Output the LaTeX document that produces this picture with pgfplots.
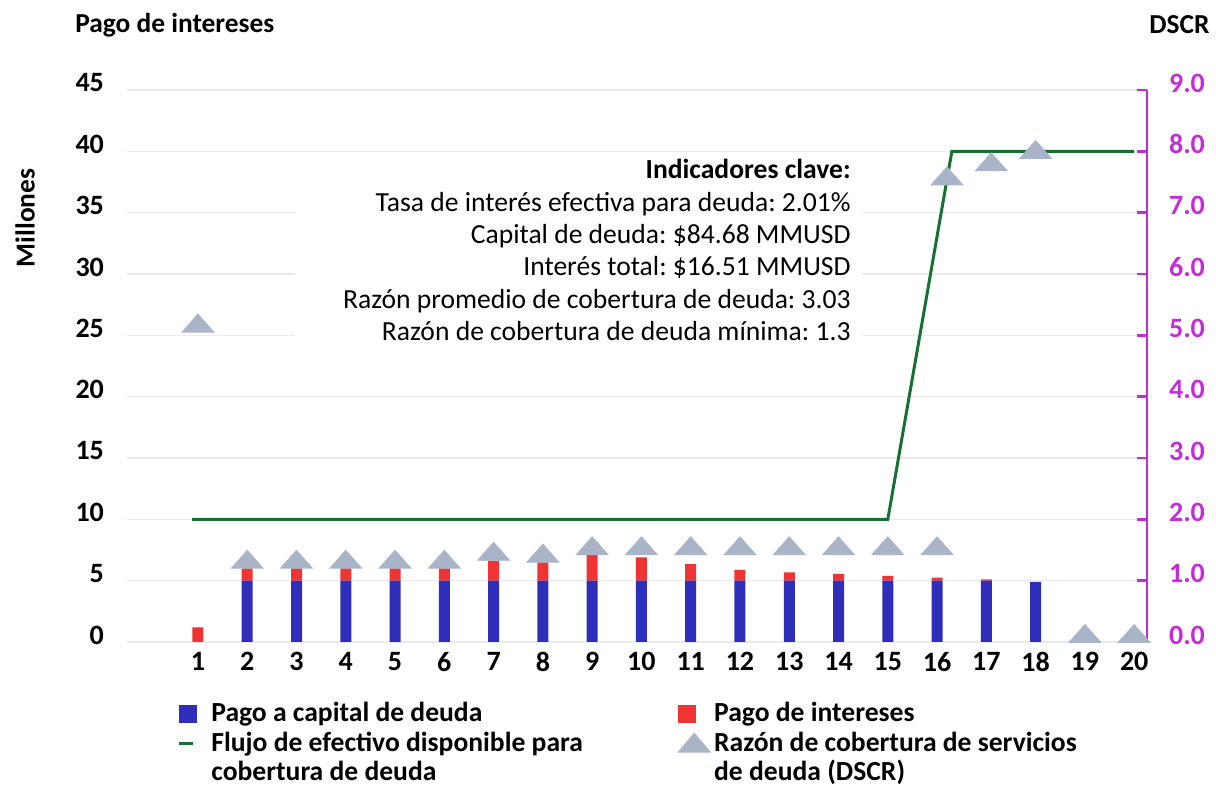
\documentclass[border=0pt]{standalone}
\usepackage{fontspec}
\setmainfont{Carlito}
\usepackage{pgfplots}
\usepackage{pgfplotstable}
\pgfplotsset{compat=1.18}
\frenchspacing

\definecolor{capblue}{RGB}{46,46,186}
\definecolor{intred}{RGB}{240,52,52}
\definecolor{flowgreen}{RGB}{22,112,50}
\definecolor{dscrgray}{RGB}{170,180,200}
\definecolor{dscrmag}{RGB}{195,45,215}
\definecolor{gridgray}{RGB}{234,234,234}

% pago a capital y pago de intereses (millones)
\pgfplotstableread{
x  cap  int
1  0    1.20
2  5    1.00
3  5    1.00
4  5    1.00
5  5    1.00
6  5    1.00
7  5    1.63
8  5    1.50
9  5    2.14
10 5    1.90
11 5    1.34
12 5    0.88
13 5    0.67
14 5    0.56
15 5    0.40
16 5    0.24
17 5    0.11
18 4.9  0
}\debt

% flujo de efectivo disponible (millones)
\pgfplotstableread{
x     flow
0.88  10
15    10
16.3  40
20    40
}\flow

% DSCR
\pgfplotstableread{
x     dscr
1     5.15
2     1.30
3     1.30
4     1.30
5     1.30
6     1.30
7     1.43
8     1.40
9     1.52
10    1.52
11    1.52
12    1.52
13    1.52
14    1.52
15    1.52
16    1.52
16.2  7.55
17.1  7.78
18.0  7.98
19    0.09
20    0.09
}\dscr

\begin{document}
\begin{tikzpicture}
\useasboundingbox (-63.5pt,-72pt) rectangle (544.5pt,321pt);
\pgfplotsset{
  base/.style={scale only axis, width=510pt, height=276pt,
    xmin=-0.44, xmax=20.26},
  /pgf/number format/assume math mode=true,
}
\begin{axis}[base, ymin=0, ymax=45,
  ybar stacked, bar width=5.5pt,
  axis line style={draw=none}, major tick length=0pt,
  ytick={0,5,...,45}, xtick={1,...,20},
  ymajorgrids, grid style={gridgray, line width=0.7pt},
  ticklabel style={font=\fontsize{14}{16}\selectfont\bfseries},
  yticklabel style={xshift=-8pt, yshift=3.5pt},
  xticklabel style={yshift=-1.5pt},
  legend columns=2,
  legend cell align=left,
  legend style={at={(0.049,-0.1023)}, anchor=north west, draw=none, fill=none,
    font=\fontsize{13.8}{15}\selectfont\bfseries,
    inner sep=0pt, row sep=0pt,
    nodes={inner sep=0.75pt, text height=10.75pt, text depth=2.5pt},
    /tikz/column 1/.style={column sep=6.5pt},
    /tikz/column 3/.style={column sep=1pt}},
]
\addplot[fill=capblue, draw=none,
  legend image code/.code={\fill[capblue] (0pt,-4.5pt) rectangle (9pt,4.5pt);}]
  table[x=x, y=cap] {\debt};
\addplot[fill=intred, draw=none,
  legend image code/.code={\fill[intred] (0pt,-4.5pt) rectangle (9pt,4.5pt);}]
  table[x=x, y=int] {\debt};
\addlegendimage{legend image code/.code={\draw[flowgreen, line width=1.5pt] (0pt,0pt) -- (7pt,0pt);}}
\addlegendimage{legend image code/.code={\fill[dscrgray] (0pt,-4.5pt) -- (16pt,-4.5pt) -- (8pt,5pt) -- cycle;}}
\addlegendimage{empty legend}
\addlegendimage{empty legend}
\legend{\makebox[232.5pt][l]{Pago a capital de deuda}, Pago de intereses,
  \makebox[232.5pt][l]{Flujo de efectivo disponible para}, Razón de cobertura de servicios,
  \makebox[232.5pt][l]{cobertura de deuda}, de deuda (DSCR)}
\end{axis}

\begin{axis}[base, ymin=0, ymax=45, hide axis]
\addplot[flowgreen, line width=1.5pt, mark=none] table[x=x, y=flow] {\flow};
\end{axis}

\begin{axis}[base, ymin=0, ymax=9, clip=false,
  axis x line=none, axis y line*=right,
  y axis line style={dscrmag, line width=1.2pt, -},
  ytick={0,1,...,9}, tick align=inside, major tick length=5pt,
  ytick style={dscrmag, line width=1.2pt},
  yticklabel style={dscrmag, font=\fontsize{14}{16}\selectfont\bfseries, xshift=7.5pt, yshift=3.5pt},
  yticklabel={\pgfmathprintnumber[fixed, fixed zerofill, precision=1]{\tick}},
]
\addplot[only marks, mark=triangle*, mark size=9.2pt, color=dscrgray,
  mark options={yscale=0.65, draw=none, fill=dscrgray}] table[x=x, y=dscr] {\dscr};
\end{axis}

\fill[white] (84pt,146pt) rectangle (367.5pt,243.5pt);
\node[anchor=north east, inner sep=0pt, align=right, font=\fontsize{13.8}{16.2}\selectfont]
  at (362pt,241.5pt)
  {\textbf{Indicadores clave:}\\
   Tasa de interés efectiva para deuda: 2.01\%\\
   Capital de deuda: \$84.68 MMUSD\\
   Interés total: \$16.51 MMUSD\\
   Razón promedio de cobertura de deuda: 3.03\\
   Razón de cobertura de deuda mínima: 1.3};

\node[anchor=west, inner sep=0pt, font=\fontsize{13.7}{15}\selectfont\bfseries]
  at (-26pt,308.5pt) {Pago de intereses};
\node[anchor=east, inner sep=0pt, font=\fontsize{13.7}{15}\selectfont\bfseries]
  at (541.5pt,308.5pt) {DSCR};
\node[rotate=90, inner sep=0pt, font=\fontsize{13.7}{15}\selectfont\bfseries]
  at (-51pt,212pt) {Millones};
\end{tikzpicture}
\end{document}
